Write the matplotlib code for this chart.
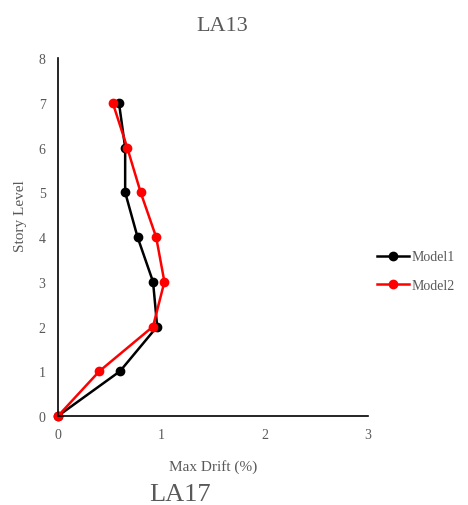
import matplotlib.pyplot as plt

plt.rcParams['font.family'] = ['Liberation Serif', 'DejaVu Serif']

levels = [0, 1, 2, 3, 4, 5, 6, 7]
model1 = [0, 0.60, 0.96, 0.92, 0.77, 0.65, 0.65, 0.59]
model2 = [0, 0.40, 0.92, 1.03, 0.95, 0.80, 0.67, 0.53]
x_ticks = [0, 1, 2, 3]
y_ticks = [0, 1, 2, 3, 4, 5, 6, 7, 8]

grey = '#595959'

fig = plt.figure(figsize=(4.68, 5.06), dpi=100)
ax = fig.add_axes([0.124, 0.176, 0.662, 0.707])

ax.plot(model1, levels, marker='o', color='black', lw=1.8, ms=6, label='Model1', clip_on=False)
ax.plot(model2, levels, marker='o', color='#ff0000', lw=1.8, ms=6, label='Model2', clip_on=False)

ax.set_xlim(0, 3)
ax.set_ylim(0, 8)
ax.set_xticks(x_ticks)
ax.set_yticks(y_ticks)
ax.tick_params(length=0, colors=grey, labelsize=10, pad=9)
for s in ['top', 'right']:
    ax.spines[s].set_visible(False)
for s in ['left', 'bottom']:
    ax.spines[s].set_color('black')
    ax.spines[s].set_linewidth(1.2)

ax.set_xlabel('Max Drift (%)', color=grey, fontsize=11)
ax.set_ylabel('Story Level', color=grey, fontsize=11)
ax.xaxis.set_label_coords(0.5, -0.12)
ax.yaxis.set_label_coords(-0.10, 0.56)

fig.text(0.474, 0.948, 'LA13', ha='center', va='center', color=grey, fontsize=16)
fig.text(0.385, 0.022, 'LA17', ha='center', va='center', color=grey, fontsize=19)

ax.legend(loc='center left', bbox_to_anchor=(0.99, 0.405), frameon=False,
          handlelength=2.3, fontsize=10, labelcolor=grey, handletextpad=0.2,
          labelspacing=1.1)

fig.savefig('out.png', dpi=100)
